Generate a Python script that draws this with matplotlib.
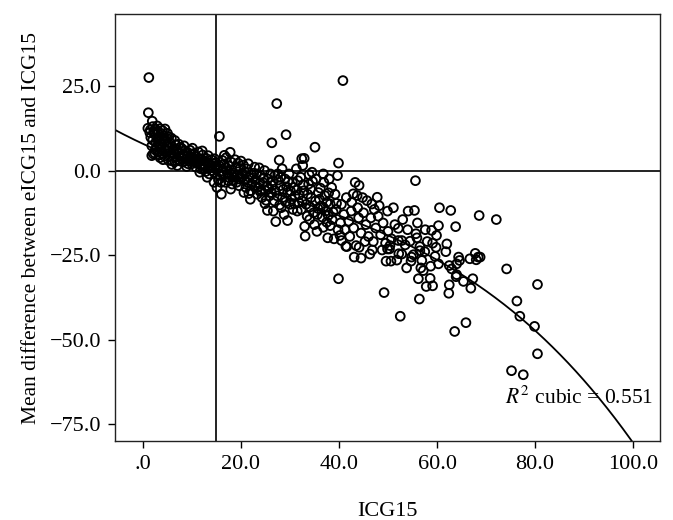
import matplotlib
matplotlib.use("Agg")
import matplotlib.pyplot as plt
import numpy as np

# ---- data ----
pts_a = [(1.2,27.5),(1.1,17.1),(1.9,14.6),(1.0,12.5),(1.5,12.0),(2.0,13.0),(2.6,12.2),(3.0,11.5),(3.5,12.4),(4.0,11.8),
         (4.5,12.3),(5.0,11.0),(1.4,11.2),(2.3,10.8),(3.2,10.0),(4.2,10.3),(2.0,9.0),(2.6,8.3),(3.4,8.6),(4.6,8.8),
         (1.8,7.3),(2.8,7.0),(3.8,6.8),(4.8,7.5),(2.1,4.9),(1.8,4.4),(3.0,5.5),(4.0,5.0),(5.0,6.0),(3.5,3.8),
         (4.4,4.2),(2.5,6.1),(3.1,9.3),(4.9,9.5),
         (1.6,9.8),(2.2,11.6),(2.9,13.2),(3.7,11.0),(4.3,9.2),(5.3,10.0),(5.8,9.6),(6.2,6.0),(6.7,7.6),(7.3,7.8),
         (7.7,6.8),(8.6,5.8),(9.1,4.3),(9.9,3.0),(2.4,5.2),(3.3,4.6),(4.1,3.2),(5.4,4.2),(6.5,2.6),(7.6,2.8),
         (8.0,3.6),(8.9,1.2),(9.4,2.8),(5.1,7.0),(3.6,7.8),(4.6,6.3)]
pts_b = [(5.5,8.2),(6.0,7.0),(6.5,8.9),(7.0,6.2),(7.5,5.0),(8.0,6.4),(8.5,4.5),(9.0,5.5),(9.5,3.8),(5.9,1.8),
         (6.3,4.0),(7.2,3.2),(8.2,2.5),(9.2,2.0),(5.6,5.2),(6.8,5.6),(7.8,4.2),(8.8,3.3),(9.8,4.8),(6.0,2.8),
         (7.0,1.5),(10.1,6.6),(5.2,3.0),(8.4,7.3),(9.6,6.0)]
pts_c = [(10.5,3.0),(11.0,4.0),(11.5,2.5),(12.0,3.3),(12.5,1.5),(13.0,2.4),(13.3,4.4),(13.8,0.8),(14.3,2.0),(14.8,1.2),
         (10.8,1.0),(11.8,0.5),(12.8,-0.3),(13.5,-1.0),(14.5,-0.5),(10.3,5.0),(11.3,5.5),(12.2,4.6),(14.0,3.2),(10.0,2.0),
         (12.6,2.8),(11.1,2.1),(13.9,1.6),(14.6,3.5),
         (10.2,3.8),(10.7,2.4),(11.4,3.4),(11.9,1.6),(12.3,0.6),(12.9,3.6),(13.4,2.2),(14.1,0.0),(14.9,2.4),(11.6,-0.5),
         (13.1,-2.0),(12.1,5.8)]
pts_d = [(15.6,10.1),(15.2,0.5),(15.8,-1.5),(16.0,-7.0),(16.5,1.8),(17.0,0.0),(17.5,-2.0),(17.8,5.4),(18.0,2.5),(18.5,-0.8),
         (19.0,1.0),(19.5,-2.5),(16.2,3.0),(16.8,-3.5),(17.3,-1.0),(18.2,-4.0),(18.8,3.2),(19.3,-1.2),(19.8,0.6),(15.4,-2.8),
         (16.0,-0.2),(17.6,1.3),(18.6,-2.0),(19.6,-4.5),(14.5,-3.5),(20.0,2.8),(17.0,3.8),
         (15.5,1.5),(15.9,-3.5),(16.4,-1.5),(16.9,1.0),(17.4,-3.0),(18.1,0.2),(18.4,-2.8),(19.1,-3.5),(19.7,-1.8),
         (15.1,-5.0),(17.9,-5.5),(19.4,2.2),(16.6,4.5)]
pts_e = [(20.3,-1.0),(20.8,-3.0),(21.2,0.5),(21.7,-2.0),(22.2,-4.0),(22.6,-0.8),(23.0,-2.8),(23.5,-5.0),(24.0,-1.5),(24.5,-3.5),
         (25.0,-6.0),(25.5,-2.5),(20.5,1.6),(21.0,-5.0),(21.5,2.0),(22.0,-6.0),(22.8,1.0),(23.3,-7.0),(23.8,-3.8),(24.3,-8.0),
         (24.8,0.0),(25.3,-4.5),(25.8,-7.5),(25.4,-11.8),(20.6,-6.5),(22.4,-2.2),(24.1,-5.8),(26.0,-1.0),(21.9,-8.5),(23.7,0.8),
         (20.1,-2.2),(20.9,-0.6),(21.4,-3.6),(22.1,-1.2),(22.9,-4.6),(23.2,-1.0),(23.9,-6.2),(24.6,-2.2),(25.1,-8.8),(25.6,-5.5),
         (21.6,-6.8),(24.9,-9.8)]
pts_f = [(26.3,8.2),(27.3,19.8),(27.8,3.1),(29.2,10.6),(26.5,-3.0),(27.0,-6.0),(27.5,-1.0),(28.0,-4.5),(28.5,-8.0),(29.0,-2.5),
         (29.5,-6.5),(30.0,-10.0),(30.5,-3.5),(31.0,-7.5),(31.5,-12.0),(26.8,-9.0),(27.1,-15.1),(29.5,-14.8),(28.2,-11.0),(29.8,-1.0),
         (30.8,-5.0),(31.3,0.5),(26.6,-12.0),(28.8,-13.0),(30.3,-8.5),(31.8,-9.5),(27.6,-2.8),(29.3,-4.8),(30.6,-11.5),(31.6,-3.0),
         (28.4,0.5),(26.2,-6.5),
         (26.4,-4.4),(26.9,-1.5),(27.4,-7.5),(27.9,-10.2),(28.6,-5.6),(29.1,-9.3),(29.6,-3.2),(30.1,-6.0),(30.9,-9.8),(31.4,-5.8),
         (31.9,-7.2),(28.1,-2.0)]
pts_g = [(32.4,3.5),(32.9,3.6),(32.6,1.5),(35.1,6.9),(40.8,26.6),(32.2,-2.0),(32.8,-6.0),(33.3,-10.0),(33.8,-4.0),(34.3,-8.0),
         (34.8,-12.5),(35.3,-2.5),(35.8,-6.5),(36.3,-10.5),(36.8,-1.0),(36.9,-3.5),(37.1,-7.4),(37.5,-9.4),(36.8,-10.9),(38.2,-9.9),
         (39.5,-9.7),(38.8,-12.3),(37.8,-13.3),(37.5,-15.3),(36.8,-16.8),(38.2,-16.3),(33.1,-19.4),(37.7,-19.9),(39.0,-20.2),(39.9,-32.0),
         (34.0,-14.5),(35.0,-16.0),(33.5,-13.5),(32.5,-9.0),(34.5,-0.5),(35.6,-13.0),(36.0,-8.5),(38.5,-5.0),(39.2,-7.0),(33.0,-16.5),
         (34.2,-5.5),(39.7,-1.5),(38.0,-2.5),(39.9,2.2),(35.5,-18.0),
         (32.3,-11.5),(32.7,-4.2),(33.6,-7.0),(34.1,-10.8),(34.6,-3.2),(35.2,-9.0),(35.7,-11.2),(36.2,-5.2),(36.6,-13.8),(37.3,-12.0),
         (37.9,-6.6),(38.6,-14.5),(39.4,-11.5),(39.8,-17.5),(33.9,-1.2)]
pts_h = [(40.2,-19.2),(40.5,-20.7),(41.6,-22.5),(41.4,-22.4),(43.5,-22.2),(44.1,-22.7),(43.1,-25.6),(44.5,-25.9),(46.3,-24.7),(49.2,-36.1),
         (49.6,-26.8),(50.6,-26.8),(43.3,-3.5),(44.1,-4.4),(42.9,-6.9),(43.7,-7.4),(42.6,-9.4),(45.7,-8.9),(47.8,-7.9),(46.7,-9.9),
         (48.2,-10.4),(49.9,-12.0),(40.5,-10.0),(41.0,-13.0),(41.5,-8.0),(42.0,-15.0),(42.5,-12.0),(43.0,-17.0),(44.0,-14.0),(44.5,-18.5),
         (45.0,-12.5),(45.5,-16.0),(46.0,-19.5),(46.5,-14.0),(47.0,-21.0),(47.5,-17.0),(48.0,-13.5),(48.5,-19.0),(49.0,-15.5),(49.5,-21.5),
         (40.3,-15.5),(41.2,-17.5),(42.2,-19.5),(43.8,-11.0),(45.3,-21.0),(46.8,-23.5),(48.8,-23.5),(49.9,-23.2),(47.2,-11.5),(44.8,-8.0)]
pts_i = [(50.3,-23.2),(51.1,-11.0),(54.1,-12.0),(55.4,-11.8),(55.6,-3.0),(51.4,-16.0),(52.1,-17.1),(50.7,-20.2),(52.1,-20.7),(50.4,-22.2),
         (52.8,-24.7),(54.8,-25.6),(55.2,-24.9),(53.8,-28.8),(56.7,-28.8),(57.2,-29.6),(56.2,-32.0),(58.6,-31.9),(57.8,-34.3),(59.1,-34.1),
         (58.7,-28.3),(59.6,-25.4),(55.7,-18.7),(55.9,-19.9),(54.5,-20.9),(52.8,-20.7),(57.6,-17.5),(58.9,-17.7),(59.9,-19.2),(56.4,-38.0),
         (52.5,-43.1),(52.2,-24.6),(53.0,-14.5),(54.0,-17.5),(56.5,-22.5),(57.5,-24.0),(51.8,-26.5),(53.5,-22.0),(58.0,-21.0),(50.0,-18.0),
         (56.0,-15.5),(54.7,-26.8),(56.5,-23.7),(56.9,-26.6),(59.1,-21.5),(59.8,-22.7)]
pts_j = [(60.3,-16.3),(60.5,-11.0),(62.8,-11.8),(63.8,-16.6),(62.0,-21.7),(61.8,-24.0),(60.3,-27.6),(62.5,-28.1),(63.0,-29.1),(64.4,-25.6),
         (64.6,-26.6),(64.0,-27.6),(63.9,-31.4),(65.4,-32.8),(66.9,-34.8),(67.3,-32.0),(62.5,-33.8),(62.4,-36.3),(63.6,-47.6),(65.9,-45.0),
         (66.7,-26.1),(68.0,-26.4),(68.4,-25.6),(67.8,-24.5),(68.6,-13.3),(68.8,-25.6),(64.0,-30.8)]
pts_k = [(72.1,-14.5),(74.2,-29.1),(76.3,-38.6),(76.9,-43.1),(80.5,-33.7),(79.9,-46.1),(80.5,-54.2),(75.2,-59.2),(77.6,-60.4)]

# cubic fit (coefficients): y = c0 + c1 x + c2 x^2 + c3 x^3
fit_coef = [7.9, -0.6757, 0.007444, -9.53e-5]
ref_x = 15.0
ref_y = 0.0
r2_text = r"$R^2$ cubic = 0.551"

x_ticks = [0, 20, 40, 60, 80, 100]
x_ticklabels = [".0", "20.0", "40.0", "60.0", "80.0", "100.0"]
y_ticks = [-75, -50, -25, 0, 25]
y_ticklabels = ["\u221275.0", "\u221250.0", "\u221225.0", "0.0", "25.0"]

plt.rcParams['font.family'] = ['Liberation Serif', 'DejaVu Serif']
plt.rcParams['mathtext.fontset'] = 'stix'

fig = plt.figure(figsize=(6.73, 5.2), dpi=100)
ax = fig.add_axes([0.1709, 0.1519, 0.8098, 0.8212])

allpts = pts_a + pts_b + pts_c + pts_d + pts_e + pts_f + pts_g + pts_h + pts_i + pts_j + pts_k
xs = [p[0] for p in allpts]
ys = [p[1] for p in allpts]
ax.scatter(xs, ys, s=40, facecolors='none', edgecolors='black', linewidths=1.35, zorder=3)

xc = np.linspace(-6, 100, 400)
yc = fit_coef[0] + fit_coef[1]*xc + fit_coef[2]*xc**2 + fit_coef[3]*xc**3
ax.plot(xc, yc, color='black', lw=1.3, zorder=2)

ax.axvline(ref_x, color='#222222', lw=1.4, zorder=1)
ax.axhline(ref_y, color='#222222', lw=1.4, zorder=1)

ax.set_xlim(-5.7, 105.5)
ax.set_ylim(-80.0, 46.3)
ax.set_xticks(x_ticks)
ax.set_xticklabels(x_ticklabels)
ax.set_yticks(y_ticks)
ax.set_yticklabels(y_ticklabels)
ax.tick_params(direction='out', length=5, width=1, labelsize=16, colors='black', pad=5)
for sp in ax.spines.values():
    sp.set_linewidth(1.0)
    sp.set_color('#222222')

ax.text(73.9, -67.2, r2_text, fontsize=15.5, va='center', ha='left', zorder=4)
ax.set_ylabel("Mean difference between eICG15 and ICG15", fontsize=15.5, labelpad=6)
ax.set_xlabel("ICG15", fontsize=16, labelpad=20)

fig.savefig("out.png", dpi=100)
